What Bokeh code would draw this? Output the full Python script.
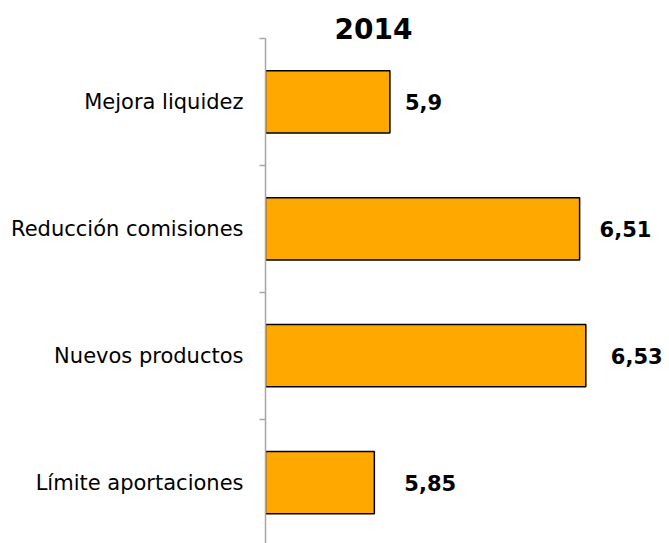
from bokeh.plotting import figure
from bokeh.models import Range1d, FixedTicker, ColumnDataSource, LabelSet
from bokeh.core.properties import value
from bokeh.embed import file_html
from bokeh.resources import INLINE

categories = ["Mejora liquidez", "Reducción comisiones", "Nuevos productos", "Límite aportaciones"]
values = [5.9, 6.51, 6.53, 5.85]
value_labels = ["5,9", "6,51", "6,53", "5,85"]
title_text = "2014"

n = len(categories)
ypos = [n - i - 0.5 for i in range(n)]
label_offsets = [15, 20, 25, 30]

src = ColumnDataSource(dict(y=ypos, v=values, lab=value_labels, off=label_offsets))

p = figure(width=669, height=543, output_backend="svg", toolbar_location=None,
           x_range=Range1d(5.5, 6.799), y_range=Range1d(0.02, 4.0),
           min_border_left=265, min_border_right=0, min_border_top=38, min_border_bottom=0,
           title=title_text)
p.outline_line_color = None
p.xgrid.visible = False
p.ygrid.visible = False
p.xaxis.visible = False

p.title.text_font = "DejaVu Sans"
p.title.text_font_style = "bold"
p.title.text_font_size = "28px"
p.title.text_color = "black"
p.title.align = "left"
p.title.offset = 69
p.title.standoff = 0

p.hbar(y="y", left=5.5, right="v", height=0.49, source=src,
       fill_color="#FFA800", line_color="black", line_width=1.5)

p.add_layout(LabelSet(x="v", y="y", text="lab", x_offset="off", source=src,
                      text_font=value("DejaVu Sans"), text_font_style="bold", text_font_size="21px",
                      text_baseline="middle", text_align="left", text_color="black"))

ax = p.yaxis[0]
ax.ticker = FixedTicker(ticks=ypos, minor_ticks=list(range(n + 1)))
ax.major_label_overrides = {y: c for y, c in zip(ypos, categories)}
ax.major_tick_out = 0
ax.major_tick_in = 0
ax.minor_tick_out = 6
ax.minor_tick_in = 0
ax.minor_tick_line_color = "#A6A6A6"
ax.axis_line_color = "#A6A6A6"
ax.axis_line_width = 1.5
ax.minor_tick_line_width = 1.5
ax.major_label_standoff = 16
ax.major_label_text_font = "DejaVu Sans"
ax.major_label_text_font_size = "21px"
ax.major_label_text_color = "black"

open("out.html", "w").write(file_html(p, INLINE))
